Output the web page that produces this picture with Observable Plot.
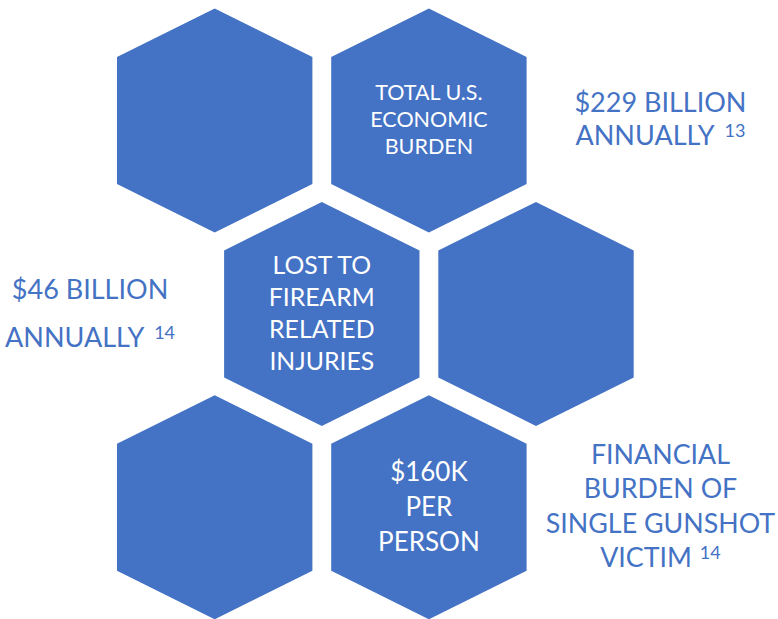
<!DOCTYPE html>
<html>
<head>
<meta charset="utf-8">
<script src="https://cdn.jsdelivr.net/npm/d3@7"></script>
<script src="https://cdn.jsdelivr.net/npm/@observablehq/plot@0.6"></script>
<style>
  html, body { margin: 0; padding: 0; background: #ffffff; }
  #chart svg { display: block; }
</style>
</head>
<body>
<div id="chart"></div>
<script>
// Hexagon grid cells (column in hex-widths, row in hex-rows) and their labels
const hexCols = [0, 1, 0.5, 1.5, 0, 1];
const hexRows = [0, 0, 1, 1, 2, 2];
const hexLabels = [
  "",
  "TOTAL U.S.\nECONOMIC\nBURDEN",
  "LOST TO\nFIREARM\nRELATED\nINJURIES",
  "",
  "",
  "$160K\nPER\nPERSON"
];

// Callout texts beside the honeycomb ("^" marks a superscript reference number)
const calloutCols = [2.081, -0.582, 2.081];
const calloutRows = [0, 1, 2];
const calloutLabels = [
  "$229 BILLION\nANNUALLY^13",
  "$46 BILLION\nANNUALLY^14",
  "FINANCIAL\nBURDEN OF\nSINGLE GUNSHOT\nVICTIM^14"
];

const hexes = hexCols.map((c, i) => ({col: c, row: hexRows[i], label: hexLabels[i], id: i}));
const callouts = calloutCols.map((c, i) => ({col: c, row: calloutRows[i], label: calloutLabels[i], id: i}));

// Pointy-top hexagon symbol (slightly taller sides, as in the reference)
const hexSymbol = {
  draw(context, size) {
    const R = Math.sqrt(size / Math.PI);
    const w = 0.8723 * R, s = 0.567 * R;
    context.moveTo(0, -R);
    context.lineTo(w, -s);
    context.lineTo(w, s);
    context.lineTo(0, R);
    context.lineTo(-w, s);
    context.lineTo(-w, -s);
    context.closePath();
  }
};

const BLUE = "#4472C4";
const FONT = "Lato, 'Open Sans', sans-serif";

const chart = Plot.plot({
  width: 778,
  height: 619,
  margin: 0,
  style: {background: "#ffffff", fontFamily: FONT, overflow: "visible"},
  x: {domain: [0, 1], range: [214.2, 428.4], axis: null},
  y: {domain: [0, 1], range: [120, 313.4], axis: null},
  marks: [
    Plot.dot(hexes, {x: "col", y: "row", r: 112, symbol: hexSymbol, fill: BLUE, stroke: "none"}),
    Plot.text(hexes.filter(d => d.id === 1), {x: "col", y: "row", text: "label", fill: "white",
      fontSize: 21.5, lineHeight: 1.256, dy: -2.5, fontFamily: FONT}),
    Plot.text(hexes.filter(d => d.id === 2), {x: "col", y: "row", text: "label", fill: "white",
      fontSize: 24.8, lineHeight: 1.298, dy: -2, fontFamily: FONT}),
    Plot.text(hexes.filter(d => d.id === 5), {x: "col", y: "row", text: "label", fill: "white",
      fontSize: 26, lineHeight: 1.36, dy: -2.75, fontFamily: FONT}),
    Plot.text(callouts.filter(d => d.id === 0), {x: "col", y: "row", text: "label", fill: BLUE,
      fontSize: 27, lineHeight: 1.233, dy: -2.3, fontFamily: FONT}),
    Plot.text(callouts.filter(d => d.id === 1), {x: "col", y: "row", text: "label", fill: BLUE,
      fontSize: 27, lineHeight: 1.767, dy: -6.5, fontFamily: FONT}),
    Plot.text(callouts.filter(d => d.id === 2), {x: "col", y: "row", text: "label", fill: BLUE,
      fontSize: 26.8, lineHeight: 1.286, dy: -2.8, fontFamily: FONT})
  ]
});

// Turn "^NN" markers into real superscript tspans
chart.querySelectorAll("tspan").forEach(t => {
  const txt = t.textContent;
  const k = txt.indexOf("^");
  if (k < 0) return;
  const base = txt.slice(0, k);
  const sup = txt.slice(k + 1);
  t.textContent = base + " ";
  const s = document.createElementNS("http://www.w3.org/2000/svg", "tspan");
  s.setAttribute("font-size", 18);
  s.setAttribute("dy", -8);
  s.setAttribute("dx", base === "VICTIM" ? 1 : 4);
  s.textContent = sup;
  t.appendChild(s);
});

document.getElementById("chart").appendChild(chart);
</script>
</body>
</html>
